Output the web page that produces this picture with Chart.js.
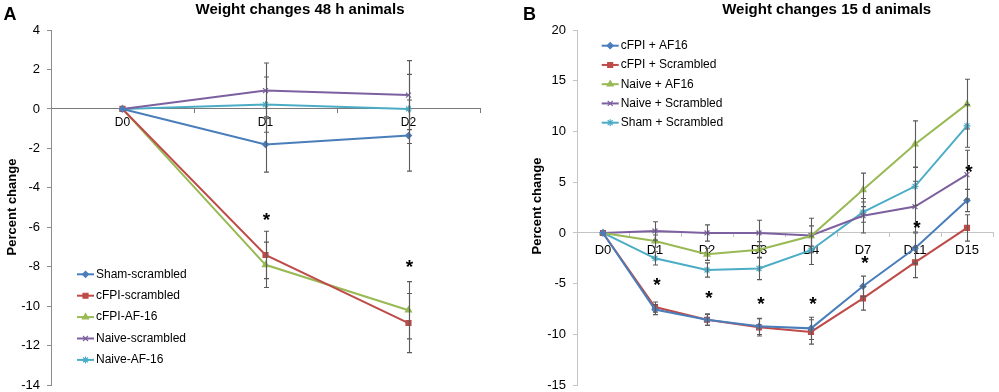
<!DOCTYPE html>
<html><head><meta charset="utf-8">
<script src="https://cdn.jsdelivr.net/npm/chart.js@4/dist/chart.umd.min.js"></script>
<style>
html,body{margin:0;padding:0;background:#fff;width:999px;height:392px;overflow:hidden;position:relative}
#ca{position:absolute;left:0;top:0}
#cb{position:absolute;left:495px;top:0}
</style></head><body>
<canvas id="ca" width="495" height="400"></canvas>
<canvas id="cb" width="504" height="400"></canvas>
<script>
// ---------- Panel A data ----------
const catsA = ['D0', 'D1', 'D2'];
const shamScrA = [0, -1.8, -1.35];
const shamScrAErr = [0, 1.4, 1.8];
const cfpiScrA = [0, -7.4, -10.85];
const cfpiScrAErr = [0, 1.2, 1.5];
const cfpiAfA = [0, -7.9, -10.2];
const cfpiAfAErr = [0, 1.15, 1.45];
const naiveScrA = [0, 0.93, 0.7];
const naiveScrAErr = [0, 1.4, 1.75];
const naiveAfA = [0, 0.22, 0];
const naiveAfAErr = [0, 1.4, 1.75];
const starsA = [null, -5.6, -8.0];
const yTicksA = {min: -14, max: 4, step: 2};

// ---------- Panel B data ----------
const catsB = ['D0', 'D1', 'D2', 'D3', 'D4', 'D7', 'D11', 'D15'];
const cfpiAfB = [0, -7.55, -8.55, -9.2, -9.4, -5.25, -1.5, 3.2];
const cfpiAfBErr = [0, 0.5, 0.55, 0.8, 1.1, 1.0, 1.5, 1.1];
const cfpiScrB = [0, -7.3, -8.55, -9.3, -9.75, -6.45, -2.9, 0.5];
const cfpiScrBErr = [0, 0.5, 0.55, 0.85, 1.2, 1.15, 1.5, 1.3];
const naiveAfB = [0, -0.8, -2.1, -1.65, -0.3, 4.25, 8.75, 12.7];
const naiveAfBErr = [0, 0.6, 0.6, 0.8, 1.0, 1.65, 2.3, 2.45];
const naiveScrB = [0, 0.2, 0, 0, -0.25, 1.7, 2.6, 5.75];
const naiveScrBErr = [0, 0.9, 0.8, 1.25, 1.7, 1.7, 2.5, 2.4];
const shamScrB = [0, -2.5, -3.65, -3.5, -1.7, 2.05, 4.6, 10.55];
const shamScrBErr = [0, 0.65, 0.7, 1.1, 1.4, 1.0, 1.9, 2.1];
const starsB = [null, -5.1, -6.4, -6.95, -6.95, -2.9, 0.55, 6.0];
const yTicksB = {min: -15, max: 20, step: 5};

const FONT = '"Liberation Sans", Arial, Helvetica, sans-serif';
const COL = {
  blue: '#4A7EBB', red: '#BE4B48', green: '#98B954', purple: '#7D60A0', cyan: '#4BACC6'
};

function ds(label, data, err, color, style, radius) {
  return {
    label, data, errorBars: err,
    borderColor: color, backgroundColor: color,
    pointBackgroundColor: color, pointBorderColor: color,
    pointStyle: style, pointRadius: radius, pointBorderWidth: 1.2,
    borderWidth: 2, tension: 0, fill: false
  };
}

const decor = {
  id: 'decor',
  afterDatasetsDraw(chart, args, o) {
    const ctx = chart.ctx, xs = chart.scales.x, ys = chart.scales.y;
    ctx.save();
    ctx.strokeStyle = '#5a5a5a';
    ctx.lineWidth = 1.1;
    chart.data.datasets.forEach((d, i) => {
      const meta = chart.getDatasetMeta(i);
      d.errorBars.forEach((e, j) => {
        if (!e) return;
        const px = Math.round(meta.data[j].x) + 0.5;
        const t = ys.getPixelForValue(d.data[j] + e);
        const b = ys.getPixelForValue(d.data[j] - e);
        ctx.beginPath();
        ctx.moveTo(px, t); ctx.lineTo(px, b);
        ctx.moveTo(px - 2.5, t); ctx.lineTo(px + 2.5, t);
        ctx.moveTo(px - 2.5, b); ctx.lineTo(px + 2.5, b);
        ctx.stroke();
      });
    });
    ctx.fillStyle = '#000';
    ctx.font = 'bold 19px ' + FONT;
    ctx.textAlign = 'center';
    ctx.textBaseline = 'middle';
    o.stars.forEach((v, j) => {
      if (v === null) return;
      ctx.fillText('*', xs.getPixelForValue(j) + o.starDx, ys.getPixelForValue(v) + 1);
    });
    ctx.restore();
  },
  afterDraw(chart, args, o) {
    const ctx = chart.ctx;
    ctx.save();
    ctx.fillStyle = '#000';
    ctx.textBaseline = 'middle';
    ctx.font = 'bold 18px ' + FONT;
    ctx.textAlign = 'center';
    ctx.fillText(o.letter, o.letterX, 15);
    ctx.font = 'bold 15px ' + FONT;
    ctx.fillText(o.title, o.titleX, 10);
    ctx.save();
    ctx.translate(o.yTitleX, o.yTitleY);
    ctx.rotate(-Math.PI / 2);
    ctx.font = 'bold 13px ' + FONT;
    ctx.fillText('Percent change', 0, 0);
    ctx.restore();
    ctx.font = '12px ' + FONT;
    ctx.textAlign = 'left';
    chart.data.datasets.forEach((d, i) => {
      const y = o.legY + i * o.legStep;
      ctx.strokeStyle = d.borderColor;
      ctx.lineWidth = 2;
      ctx.beginPath();
      ctx.moveTo(o.legX, y); ctx.lineTo(o.legX + 17, y);
      ctx.stroke();
      ctx.fillStyle = d.backgroundColor;
      ctx.lineWidth = 1.2;
      Chart.helpers.drawPoint(ctx, {pointStyle: d.pointStyle, radius: d.pointRadius, rotation: 0, borderWidth: 1.2}, o.legX + 8.5, y);
      ctx.fillStyle = '#000';
      ctx.fillText(d.label, o.legX + 19, y);
    });
    ctx.restore();
  }
};

function makeChart(id, cats, datasets, yt, axisCol, xAxisCol, yWidth, pad, xFont, xPad, deco) {
  return new Chart(document.getElementById(id), {
    type: 'line',
    data: {labels: cats, datasets},
    options: {
      responsive: false, animation: false, devicePixelRatio: 1,
      layout: {padding: pad},
      plugins: {legend: {display: false}, tooltip: {enabled: false}, title: {display: false}, decor: deco},
      scales: {
        x: {
          type: 'category', offset: true, position: {y: 0},
          border: {display: true, color: xAxisCol, width: 1},
          grid: {display: true, drawOnChartArea: false, drawTicks: true, tickLength: 4, color: xAxisCol, offset: true},
          ticks: {color: '#000', font: {family: FONT, size: xFont}, padding: xPad, maxRotation: 0, autoSkip: false}
        },
        y: {
          min: yt.min, max: yt.max,
          border: {display: true, color: axisCol, width: 1},
          grid: {display: true, drawOnChartArea: false, drawTicks: true, tickLength: 4, color: axisCol},
          ticks: {stepSize: yt.step, color: '#000', font: {family: FONT, size: 13}, padding: 7},
          afterFit(s) { s.width = yWidth; }
        }
      }
    },
    plugins: [decor]
  });
}

makeChart('ca', catsA, [
  ds('Sham-scrambled', shamScrA, shamScrAErr, COL.blue, 'rectRot', 3),
  ds('cFPI-scrambled', cfpiScrA, cfpiScrAErr, COL.red, 'rect', 3.5),
  ds('cFPI-AF-16', cfpiAfA, cfpiAfAErr, COL.green, 'triangle', 3.5),
  ds('Naive-scrambled', naiveScrA, naiveScrAErr, COL.purple, 'crossRot', 3.5),
  ds('Naive-AF-16', naiveAfA, naiveAfAErr, COL.cyan, 'star', 3.5)
], yTicksA, '#8c8c8c', '#7a7a7a', 51, {top: 30, right: 15, bottom: 0, left: 0}, 12, 3, {
  letter: 'A', letterX: 10, title: 'Weight changes 48 h animals', titleX: 300,
  yTitleX: 12, yTitleY: 207, legX: 77, legY: 274.3, legStep: 21.4,
  stars: starsA, starDx: 1
});

makeChart('cb', catsB, [
  ds('cFPI + AF16', cfpiAfB, cfpiAfBErr, COL.blue, 'rectRot', 3),
  ds('cFPI + Scrambled', cfpiScrB, cfpiScrBErr, COL.red, 'rect', 3.5),
  ds('Naive + AF16', naiveAfB, naiveAfBErr, COL.green, 'triangle', 3.5),
  ds('Naive + Scrambled', naiveScrB, naiveScrBErr, COL.purple, 'crossRot', 3.5),
  ds('Sham + Scrambled', shamScrB, shamScrBErr, COL.cyan, 'star', 3.5)
], yTicksB, '#c4c4c4', '#c4c4c4', 82, {top: 30, right: 6, bottom: 0, left: 0}, 13, 6, {
  letter: 'B', letterX: 34.5, title: 'Weight changes 15 d animals', titleX: 331.7,
  yTitleX: 42, yTitleY: 206, legX: 106.7, legY: 45.7, legStep: 19.25,
  stars: starsB, starDx: 2
});
</script>
</body></html>
